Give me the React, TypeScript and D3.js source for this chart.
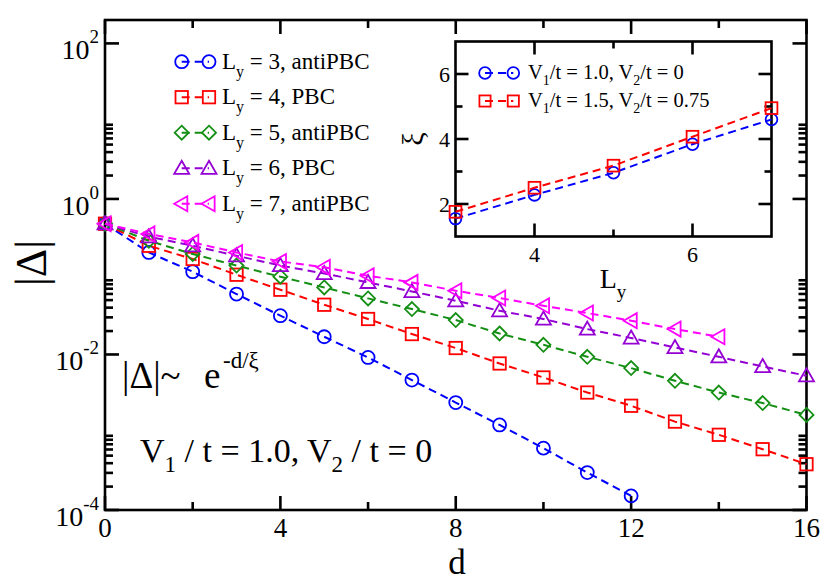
import { useEffect } from "react";
import * as d3 from "d3";

// |Delta| vs distance d, one array per strip width
const dist = [0, 1, 2, 3, 4, 5, 6, 7, 8, 9, 10, 11, 12, 13, 14, 15, 16];
const ly3 = [0.48, 0.205, 0.116, 0.0598, 0.0315, 0.0169, 0.00915, 0.00469, 0.00241, 0.00124, 6.24e-4, 3.03e-4, 1.52e-4];
const ly4 = [0.48, 0.25, 0.169, 0.106, 0.068, 0.0436, 0.0286, 0.0183, 0.0121, 0.00766, 0.00506, 0.00324, 0.00219, 0.00137, 9.27e-4, 6.05e-4, 3.88e-4];
const ly5 = [0.48, 0.29, 0.196, 0.139, 0.1, 0.0728, 0.0526, 0.0384, 0.0277, 0.0186, 0.0133, 0.00933, 0.00668, 0.00459, 0.00324, 0.00237, 0.00167];
const ly6 = [0.48, 0.327, 0.25, 0.186, 0.139, 0.11, 0.0845, 0.0647, 0.0491, 0.0365, 0.0286, 0.0212, 0.0163, 0.0123, 0.00933, 0.00701, 0.00532];
const ly7 = [0.48, 0.355, 0.276, 0.205, 0.157, 0.132, 0.103, 0.0845, 0.066, 0.0532, 0.0423, 0.0341, 0.0272, 0.0212, 0.0169];

const legendLy = ["3", "4", "5", "6", "7"];
const legendBc = ["antiPBC", "PBC", "antiPBC", "PBC", "antiPBC"];

// inset: correlation length xi vs Ly
const insetLy = [3, 4, 5, 6, 7];
const xiA = [1.55, 2.28, 2.96, 3.84, 4.6];
const xiB = [1.76, 2.5, 3.18, 4.07, 4.95];

const xMajor = [0, 4, 8, 12, 16];
const xMinor = [2, 6, 10, 14];
const yMajorExp = [-4, -2, 0, 2];
const insetXMajor = [4, 6];
const insetXMinor = [5];
const insetYMajor = [2, 4, 6];
const insetYMinor = [3, 5];

const FONT = "'Liberation Serif', 'DejaVu Serif', serif";
const W = 830;
const H = 585;
const M = { left: 105, right: 806.5, top: 20, bottom: 510 };
const IN = { left: 455.5, right: 771.5, top: 41.5, bottom: 236.5 };

type Shape = "circle" | "square" | "diamond" | "up" | "left";

const series: { data: number[]; color: string; shape: Shape }[] = [
  { data: ly3, color: "#0000ff", shape: "circle" },
  { data: ly4, color: "#ff0000", shape: "square" },
  { data: ly5, color: "#148f14", shape: "diamond" },
  { data: ly6, color: "#9400d3", shape: "up" },
  { data: ly7, color: "#ff00ff", shape: "left" },
];

function Marker({ shape, x, y, color, s = 1 }: { shape: Shape; x: number; y: number; color: string; s?: number }) {
  const common = { fill: "none", stroke: color, strokeWidth: 1.8 };
  if (shape === "circle") return <circle cx={x} cy={y} r={6.5 * s} {...common} />;
  if (shape === "square") {
    const h = 6.2 * s;
    return <rect x={x - h} y={y - h} width={2 * h} height={2 * h} {...common} />;
  }
  if (shape === "diamond") {
    const h = 7 * s;
    return <path d={`M${x},${y - h}L${x + h},${y}L${x},${y + h}L${x - h},${y}Z`} {...common} />;
  }
  if (shape === "up") {
    const h = 7.5 * s;
    return <path d={`M${x},${y - h}L${x + h},${y + h * 0.75}L${x - h},${y + h * 0.75}Z`} {...common} />;
  }
  const h = 7.5 * s;
  return <path d={`M${x - h},${y}L${x + h * 0.75},${y - h}L${x + h * 0.75},${y + h}Z`} {...common} />;
}

export default function App() {
  useEffect(() => {
    document.body.style.margin = "0";
  }, []);

  const x = d3.scaleLinear().domain([0, 16]).range([M.left, M.right]);
  const y = d3.scaleLog().domain([1e-4, 200]).range([M.bottom, M.top]);
  const ix = d3.scaleLinear().domain([3, 7]).range([IN.left, IN.right]);
  const iy = d3.scaleLinear().domain([1, 7]).range([IN.bottom, IN.top]);

  const yMinor: number[] = [];
  yMajorExp.forEach((e) => {
    for (let k = 2; k <= 9; k++) {
      const v = k * Math.pow(10, e);
      if (v < 199) yMinor.push(v);
    }
  });

  const line = d3
    .line<number>()
    .x((_, i) => x(dist[i]))
    .y((d) => y(d));
  const iline = d3
    .line<number>()
    .x((_, i) => ix(insetLy[i]))
    .y((d) => iy(d));

  const axisStroke = { stroke: "#000", strokeWidth: 2.6 };
  const dash = "8,5";

  return (
    <svg width={W} height={H} style={{ display: "block", background: "#fff" }} fontFamily={FONT}>
      {/* main frame ticks */}
      {xMajor.map((v) => (
        <g key={`xM${v}`}>
          <line x1={x(v)} x2={x(v)} y1={M.bottom} y2={M.bottom - 14} {...axisStroke} />
          <line x1={x(v)} x2={x(v)} y1={M.top} y2={M.top + 14} {...axisStroke} />
          <text x={x(v)} y={537} fontSize={27} textAnchor="middle">
            {v}
          </text>
        </g>
      ))}
      {xMinor.map((v) => (
        <g key={`xm${v}`}>
          <line x1={x(v)} x2={x(v)} y1={M.bottom} y2={M.bottom - 8} {...axisStroke} />
          <line x1={x(v)} x2={x(v)} y1={M.top} y2={M.top + 8} {...axisStroke} />
        </g>
      ))}
      {yMajorExp.map((e) => {
        const yy = y(Math.pow(10, e));
        return (
          <g key={`yM${e}`}>
            <line x1={M.left} x2={M.left + 14} y1={yy} y2={yy} {...axisStroke} />
            <line x1={M.right} x2={M.right - 14} y1={yy} y2={yy} {...axisStroke} />
            <text x={99} y={yy + 16} fontSize={28} textAnchor="end">
              10
              <tspan fontSize={19} dy={-16}>
                {e}
              </tspan>
            </text>
          </g>
        );
      })}
      {yMinor.map((v) => (
        <g key={`ym${v}`}>
          <line x1={M.left} x2={M.left + 8} y1={y(v)} y2={y(v)} {...axisStroke} />
          <line x1={M.right} x2={M.right - 8} y1={y(v)} y2={y(v)} {...axisStroke} />
        </g>
      ))}
      <rect
        x={M.left}
        y={M.top}
        width={M.right - M.left}
        height={M.bottom - M.top}
        fill="none"
        {...axisStroke}
      />

      {/* series */}
      {series.map((s, si) => (
        <g key={`s${si}`}>
          <path d={line(s.data) ?? ""} fill="none" stroke={s.color} strokeWidth={2} strokeDasharray={dash} />
          {s.data.map((v, i) => (
            <Marker key={i} shape={s.shape} x={x(dist[i])} y={y(v)} color={s.color} />
          ))}
        </g>
      ))}

      {/* main legend */}
      {series.map((s, i) => {
        const cy = 61.7 + i * 35.5;
        return (
          <g key={`lg${i}`}>
            <line x1={181.7} x2={209} y1={cy} y2={cy} stroke={s.color} strokeWidth={2} strokeDasharray={dash} />
            <Marker shape={s.shape} x={181.7} y={cy} color={s.color} />
            <Marker shape={s.shape} x={209} y={cy} color={s.color} />
            <text x={222} y={cy + 7} fontSize={23}>
              L
              <tspan fontSize={16} dy={8}>
                y
              </tspan>
              <tspan dy={-8}>{` = ${legendLy[i]}, ${legendBc[i]}`}</tspan>
            </text>
          </g>
        );
      })}

      {/* annotations */}
      <text y={388} fontSize={37}>
        <tspan x={122}>|Δ|~</tspan>
        <tspan x={204}>e</tspan>
        <tspan x={223} fontSize={23} dy={-20}>
          -d/ξ
        </tspan>
      </text>
      <text x={140} y={462} fontSize={34}>
        V
        <tspan fontSize={23} dy={10}>
          1
        </tspan>
        <tspan dy={-10}> / t = 1.0, V</tspan>
        <tspan fontSize={23} dy={10}>
          2
        </tspan>
        <tspan dy={-10}> / t = 0</tspan>
      </text>

      {/* axis titles */}
      <text x={457} y={574} fontSize={35} textAnchor="middle">
        d
      </text>
      <text transform="translate(46,263) rotate(-90)" fontSize={44} textAnchor="middle">
        |Δ|
      </text>

      {/* inset */}
      <rect x={IN.left} y={IN.top} width={IN.right - IN.left} height={IN.bottom - IN.top} fill="#fff" />
      {insetXMajor.map((v) => (
        <g key={`ixM${v}`}>
          <line x1={ix(v)} x2={ix(v)} y1={IN.bottom} y2={IN.bottom - 13} {...axisStroke} />
          <line x1={ix(v)} x2={ix(v)} y1={IN.top} y2={IN.top + 13} {...axisStroke} />
          <text x={ix(v)} y={262} fontSize={22} textAnchor="middle">
            {v}
          </text>
        </g>
      ))}
      {insetXMinor.map((v) => (
        <g key={`ixm${v}`}>
          <line x1={ix(v)} x2={ix(v)} y1={IN.bottom} y2={IN.bottom - 7} {...axisStroke} />
          <line x1={ix(v)} x2={ix(v)} y1={IN.top} y2={IN.top + 7} {...axisStroke} />
        </g>
      ))}
      {insetYMajor.map((v) => (
        <g key={`iyM${v}`}>
          <line x1={IN.left} x2={IN.left + 13} y1={iy(v)} y2={iy(v)} {...axisStroke} />
          <line x1={IN.right} x2={IN.right - 13} y1={iy(v)} y2={iy(v)} {...axisStroke} />
          <text x={450} y={iy(v) + 8} fontSize={22} textAnchor="end">
            {v}
          </text>
        </g>
      ))}
      {insetYMinor.map((v) => (
        <g key={`iym${v}`}>
          <line x1={IN.left} x2={IN.left + 7} y1={iy(v)} y2={iy(v)} {...axisStroke} />
          <line x1={IN.right} x2={IN.right - 7} y1={iy(v)} y2={iy(v)} {...axisStroke} />
        </g>
      ))}
      <rect
        x={IN.left}
        y={IN.top}
        width={IN.right - IN.left}
        height={IN.bottom - IN.top}
        fill="none"
        {...axisStroke}
      />
      <path d={iline(xiA) ?? ""} fill="none" stroke="#0000ff" strokeWidth={2} strokeDasharray={dash} />
      {xiA.map((v, i) => (
        <Marker key={`ia${i}`} shape="circle" x={ix(insetLy[i])} y={iy(v)} color="#0000ff" s={0.9} />
      ))}
      <path d={iline(xiB) ?? ""} fill="none" stroke="#ff0000" strokeWidth={2} strokeDasharray={dash} />
      {xiB.map((v, i) => (
        <Marker key={`ib${i}`} shape="square" x={ix(insetLy[i])} y={iy(v)} color="#ff0000" s={0.95} />
      ))}

      {/* inset legend */}
      {[
        { c: "#0000ff", sh: "circle" as Shape, a: "1.0", b: "0", cy: 73 },
        { c: "#ff0000", sh: "square" as Shape, a: "1.5", b: "0.75", cy: 101 },
      ].map((r, i) => (
        <g key={`il${i}`}>
          <line x1={485} x2={513.3} y1={r.cy} y2={r.cy} stroke={r.c} strokeWidth={2} strokeDasharray={dash} />
          <Marker shape={r.sh} x={485} y={r.cy} color={r.c} s={0.9} />
          <Marker shape={r.sh} x={513.3} y={r.cy} color={r.c} s={0.9} />
          <text x={528} y={r.cy + 6} fontSize={20.5}>
            V
            <tspan fontSize={14} dy={6}>
              1
            </tspan>
            <tspan dy={-6}>{`/t = ${r.a}, V`}</tspan>
            <tspan fontSize={14} dy={6}>
              2
            </tspan>
            <tspan dy={-6}>{`/t = ${r.b}`}</tspan>
          </text>
        </g>
      ))}
      <text x={613} y={288} fontSize={28} textAnchor="middle">
        L
        <tspan fontSize={19} dy={10}>
          y
        </tspan>
      </text>
      <text transform="translate(423,139) rotate(-90)" fontSize={30} textAnchor="middle">
        ξ
      </text>
    </svg>
  );
}
